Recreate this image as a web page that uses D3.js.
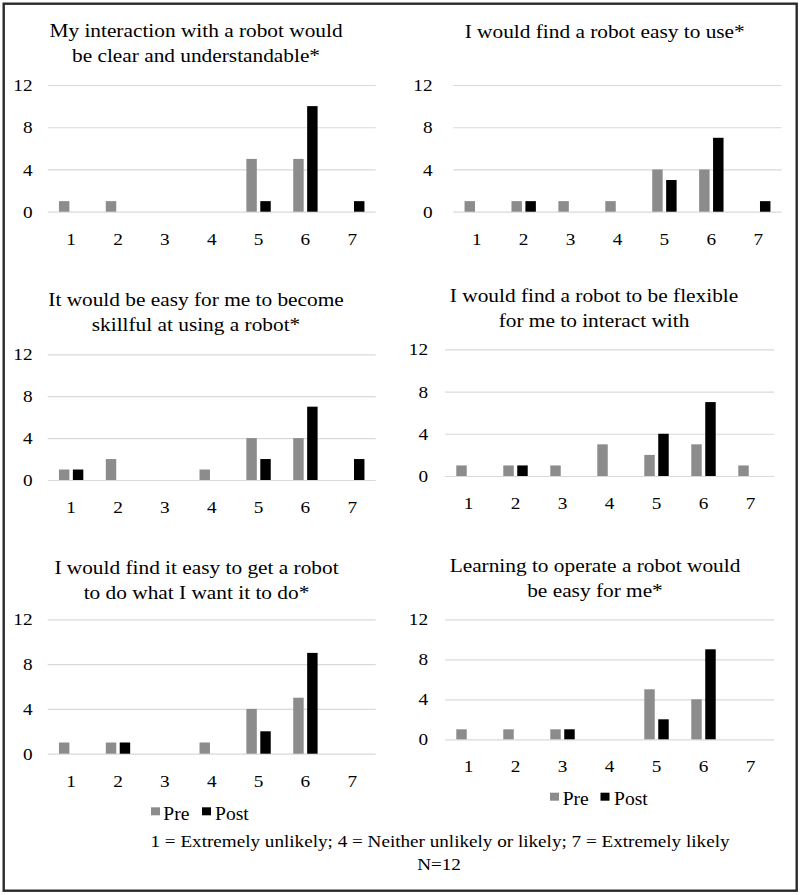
<!DOCTYPE html>
<html><head><meta charset="utf-8">
<script src="https://cdn.jsdelivr.net/npm/d3@7"></script>
<style>body{margin:0;background:#fff}</style>
</head><body>
<svg id="chart" width="800" height="895"></svg>
<script>
// ---------- DATA ----------
const categories = ["1","2","3","4","5","6","7"];
const seriesNames = ["Pre","Post"];
const yTicks = [0,4,8,12];
const titles = [
  ["My interaction with a robot would","be clear and understandable*"],
  ["I would find a robot easy to use*"],
  ["It would be easy for me to become","skillful at using a robot*"],
  ["I would find a robot to be flexible","for me to interact with"],
  ["I would find it easy to get a robot","to do what I want it to do*"],
  ["Learning to operate a robot would","be easy for me*"]
];
const preValues = [
  [1,1,0,0,5,5,0],
  [1,1,1,1,4,4,0],
  [1,2,0,1,4,4,0],
  [1,1,1,3,2,3,1],
  [1,1,0,1,4,5,0],
  [1,1,1,0,5,4,0]
];
const postValues = [
  [0,0,0,0,1,10,1],
  [0,1,0,0,3,7,1],
  [1,0,0,0,2,7,2],
  [0,1,0,0,4,7,0],
  [0,1,0,0,2,9,0],
  [0,0,1,0,2,9,0]
];
const legendLabels = ["Pre","Post"];
const footnote = "1 = Extremely unlikely; 4 = Neither unlikely or likely; 7 = Extremely likely";
const sampleNote = "N=12";

// ---------- LAYOUT ----------
const FONT = "'Liberation Serif','Times New Roman',serif";
const SX = 1.1;            // horizontal text stretch seen in the reference
const colors = {Pre:"#8c8c8c", Post:"#000000"};
const panels = [
  {x0:47.7, x1:375.7, yTop:85,    yBase:211.7, titleX:196,   titleY:[37.3,62.3],   labelRight:32.5},
  {x0:453.3,x1:781.7, yTop:85,    yBase:211.7, titleX:604.7, titleY:[37.7],        labelRight:432.5},
  {x0:47.7, x1:375.7, yTop:354.3, yBase:480,   titleX:196,   titleY:[305.7,330.7], labelRight:32.5},
  {x0:445,  x1:774,   yTop:349.3, yBase:476,   titleX:594,   titleY:[301.7,326.7], labelRight:428},
  {x0:47.7, x1:375.7, yTop:619.3, yBase:753.7, titleX:196.5, titleY:[574,599],     labelRight:32.5},
  {x0:445,  x1:774,   yTop:619.3, yBase:739.3, titleX:595,   titleY:[572.3,597.3], labelRight:428}
];

const svg = d3.select("#chart");

// outer frame
svg.append("rect").attr("x",3.7).attr("y",3.7).attr("width",793).attr("height",887)
  .attr("fill","none").attr("stroke","#2a2a2a").attr("stroke-width",2.4);

function stretched(sel, x, y){
  return sel.attr("x",0).attr("y",0).attr("transform",`translate(${x},${y}) scale(${SX},1)`);
}

panels.forEach((p, i) => {
  const g = svg.append("g");
  const x = d3.scaleBand().domain(categories).range([p.x0, p.x1]).padding(0);
  const bw = x.bandwidth();
  const xs = d3.scaleBand().domain(seriesNames).range([0.24*bw, 0.76*bw]).paddingInner(0.25);
  const y = d3.scaleLinear().domain([0,12]).range([p.yBase, p.yTop]);

  // y axis with gridlines
  const pad = p.x0 - p.labelRight;
  const ya = g.append("g").attr("transform",`translate(${p.x0},0)`)
    .call(d3.axisLeft(y).tickValues(yTicks).tickSize(-(p.x1-p.x0)).tickPadding(pad).tickFormat(d3.format("d")));
  ya.select(".domain").remove();
  ya.selectAll(".tick line").attr("stroke","#d9d9d9").attr("stroke-width",1.2);
  ya.selectAll(".tick text")
    .attr("x", -pad/SX).attr("transform",`scale(${SX},1)`)
    .attr("font-family",FONT).attr("font-size",17.5).attr("fill","#000");

  // x axis labels
  const xa = g.append("g").attr("transform",`translate(0,${p.yBase})`)
    .call(d3.axisBottom(x).tickSize(0));
  xa.select(".domain").remove();
  xa.selectAll(".tick text")
    .attr("y",0).attr("dy",0)
    .attr("transform",`translate(0,33) scale(${SX},1)`)
    .attr("font-family",FONT).attr("font-size",17.5).attr("fill","#000");

  // bars
  const rows = categories.map((c, k) => ({cat:c, vals:[
    {s:"Pre", v:preValues[i][k]}, {s:"Post", v:postValues[i][k]}]}));
  g.selectAll("g.cat").data(rows).join("g").attr("class","cat")
    .attr("transform", d => `translate(${x(d.cat)},0)`)
    .selectAll("rect").data(d => d.vals.filter(e => e.v > 0)).join("rect")
    .attr("x", d => xs(d.s)).attr("width", xs.bandwidth())
    .attr("y", d => y(d.v)).attr("height", d => y(0) - y(d.v))
    .attr("fill", d => colors[d.s]);

  // title
  titles[i].forEach((line, j) => {
    stretched(g.append("text"), p.titleX, p.titleY[j])
      .attr("text-anchor","middle").attr("font-family",FONT).attr("font-size",19.4)
      .attr("fill","#000").text(line);
  });
});

// legends
const legends = [
  {sq:[151,202], txt:[163.3,215], sqY:807.3, base:820},
  {sq:[550,600.5], txt:[562.7,614], sqY:792.7, base:805}
];
legends.forEach(L => {
  legendLabels.forEach((lab, k) => {
    svg.append("rect").attr("x",L.sq[k]).attr("y",L.sqY).attr("width",9).attr("height",8)
      .attr("fill",colors[seriesNames[k]]);
    stretched(svg.append("text"), L.txt[k], L.base)
      .attr("font-family",FONT).attr("font-size",17.8).attr("fill","#000").text(lab);
  });
});

// footnotes
stretched(svg.append("text"), 440, 846.7).attr("text-anchor","middle")
  .attr("font-family",FONT).attr("font-size",17.4).attr("fill","#000").text(footnote);
stretched(svg.append("text"), 439, 869.5).attr("text-anchor","middle")
  .attr("font-family",FONT).attr("font-size",17.4).attr("fill","#000").text(sampleNote);
</script>
</body></html>
